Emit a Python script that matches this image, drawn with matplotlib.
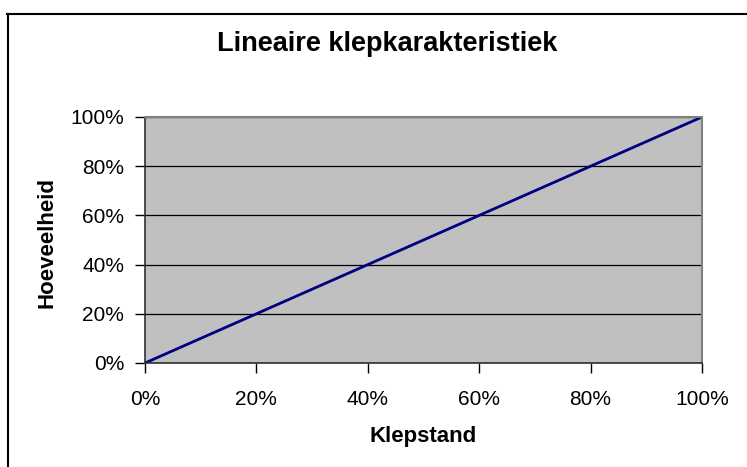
import matplotlib
matplotlib.use("Agg")
import matplotlib.pyplot as plt
from matplotlib.lines import Line2D
from matplotlib.ticker import FuncFormatter

plt.rcParams['font.family'] = ['Liberation Sans', 'DejaVu Sans']

klepstand = [0, 10, 20, 30, 40, 50, 60, 70, 80, 90, 100]
hoeveelheid = [0, 10, 20, 30, 40, 50, 60, 70, 80, 90, 100]
ticks = [0, 20, 40, 60, 80, 100]

W, H = 747, 467
L, R, T, B = 145, 702, 117, 363

fig = plt.figure(figsize=(W/100, H/100), dpi=100)
ax = fig.add_axes([L/W, 1-B/H, (R-L)/W, (B-T)/H])
ax.set_facecolor('#c0c0c0')
ax.plot(klepstand, hoeveelheid, color='#000080', lw=2, solid_capstyle='butt')
ax.set_xlim(0, 100)
ax.set_ylim(0, 100)
ax.set_xticks(ticks)
ax.set_yticks(ticks)
fmt = FuncFormatter(lambda v, p: f"{int(v)}%")
ax.xaxis.set_major_formatter(fmt)
ax.yaxis.set_major_formatter(fmt)
ax.grid(axis='y', color='black', lw=0.9)
ax.set_axisbelow(True)
for s in ['top', 'right']:
    ax.spines[s].set_color('#808080')
    ax.spines[s].set_linewidth(1.5)
for s in ['left', 'bottom']:
    ax.spines[s].set_color('#303030')
    ax.spines[s].set_linewidth(1.2)
ax.tick_params(axis='both', direction='out', length=7, width=1, color='black', labelsize=15)
ax.tick_params(axis='x', pad=12.5)
ax.tick_params(axis='y', pad=8)

ax.set_xlabel('Klepstand', fontsize=16, fontweight='bold')
ax.xaxis.label.set_va('baseline')
ax.xaxis.set_label_coords((423.5-L)/(R-L), -(442-B)/(B-T))
ax.set_ylabel('Hoeveelheid', fontsize=16, fontweight='bold')
ax.yaxis.label.set_va('center')
ax.yaxis.set_label_coords(-(L-47)/(R-L), (B-242)/(B-T))

fig.text(387/W, 1-51/H, 'Lineaire klepkarakteristiek', ha='center', va='baseline',
         fontsize=19.5, fontweight='bold')

fig.add_artist(Line2D([7/W, 1.0], [1-13.5/H, 1-13.5/H], transform=fig.transFigure, color='black', lw=1.5))
fig.add_artist(Line2D([7.5/W, 7.5/W], [1-13.5/H, 0], transform=fig.transFigure, color='black', lw=1.5))

fig.savefig('out.png', dpi=100)
